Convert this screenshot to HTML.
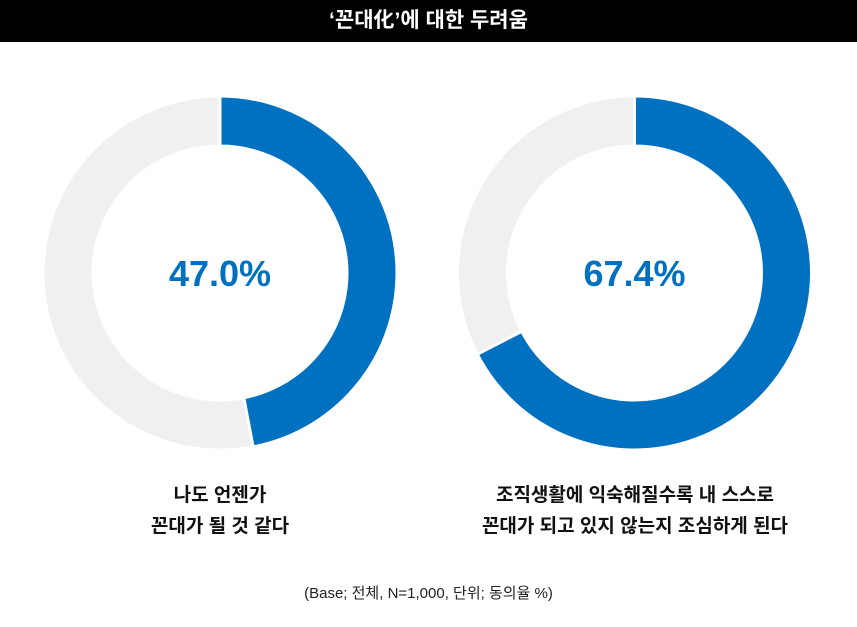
<!DOCTYPE html>
<html><head><meta charset="utf-8"><style>
body{margin:0;width:857px;height:627px;background:#fff;overflow:hidden;font-family:"Liberation Sans","Noto Sans CJK KR",sans-serif}
#title{position:absolute;left:0;top:0;width:857px;height:42px;background:#000;color:#fff;font-weight:bold;font-size:21px;text-align:center;line-height:42px}
.lab{position:absolute;text-align:center;font-size:19px;font-weight:bold;color:#111;line-height:31px}
#note{position:absolute;left:0;width:857px;top:582px;text-align:center;font-size:15px;color:#222}
</style></head><body>
<div id="title">‘꼰대化’에 대한 두려움</div>
<svg id="chart" width="857" height="627" style="position:absolute;left:0;top:0"></svg>
<div class="lab" style="left:70px;width:300px;top:480px">나도 언젠가<br>꼰대가 될 것 같다</div>
<div class="lab" style="left:400px;width:470px;top:480px">조직생활에 익숙해질수록 내 스스로<br>꼰대가 되고 있지 않는지 조심하게 된다</div>
<div id="note">(Base; 전체, N=1,000, 단위; 동의율 %)</div>
<script>
const categories=["left","right"];
const values=[47.0,67.4];
const centersX=[220,634.5];
const cy=273,R=177,r=127;
const svg=document.getElementById('chart');
const NS='http://www.w3.org/2000/svg';
function pt(rad,a){return [cx0+rad*Math.sin(a),cy-rad*Math.cos(a)];}
let cx0=0;
function arc(a0,a1){
 const large=(a1-a0)>Math.PI?1:0;
 const p1=pt(R,a0),p2=pt(R,a1),p3=pt(r,a1),p4=pt(r,a0);
 return `M${p1}L${p1}A${R},${R} 0 ${large} 1 ${p2}L${p3}A${r},${r} 0 ${large} 0 ${p4}Z`;
}
values.forEach((v,i)=>{
 cx0=centersX[i];
 const a=v/100*2*Math.PI;
 const bg=document.createElementNS(NS,'path');
 bg.setAttribute('d',arc(a,2*Math.PI-0.0001));
 bg.setAttribute('fill','#f0f0f0');bg.setAttribute('stroke','#fff');bg.setAttribute('stroke-width','3');
 
 
 svg.appendChild(bg);
 const fg=document.createElementNS(NS,'path');
 fg.setAttribute('d',arc(0,a));
 fg.setAttribute('fill','#0070c0');fg.setAttribute('stroke','#fff');fg.setAttribute('stroke-width','3');
 
 
 svg.appendChild(fg);
 const t=document.createElementNS(NS,'text');
 t.setAttribute('x',cx0);t.setAttribute('y',cy+13);
 t.setAttribute('text-anchor','middle');t.setAttribute('fill','#0070c0');
 t.setAttribute('font-size','36');t.setAttribute('font-weight','bold');
 t.setAttribute('font-family','Liberation Sans, sans-serif');
 t.textContent=v.toFixed(1)+'%';
 
 
 svg.appendChild(t);
});
</script>
</body></html>
